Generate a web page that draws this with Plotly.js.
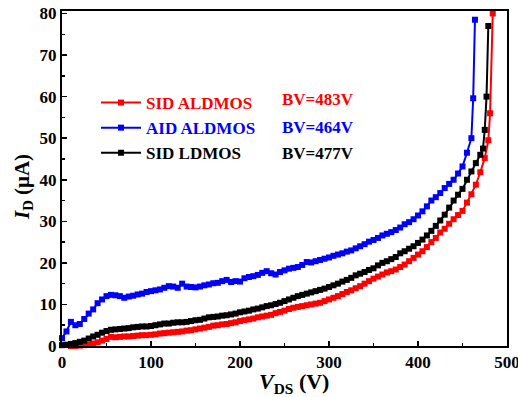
<!DOCTYPE html>
<html>
<head>
<meta charset="utf-8">
<script src="https://cdn.plot.ly/plotly-3.0.1.min.js"></script>
<style>html,body{margin:0;padding:0;background:#fff;}#chart{width:518px;height:397px;}</style>
</head>
<body>
<div id="chart"></div>
<script>
// Common V_DS grid (V) for the dense part of the sweep
const vGrid = [0,5,10,15,20,25,30,35,40,45,50,55,60,65,70,75,80,85,90,95,100,105,110,115,120,125,130,135,140,145,150,155,160,165,170,175,180,185,190,195,200,205,210,215,220,225,230,235,240,245,250,255,260,265,270,275,280,285,290,295,300,305,310,315,320,325,330,335,340,345,350,355,360,365,370,375,380,385,390,395,400,405,410,415,420,425,430,435,440,445,450,455,460];

// AID ALDMOS (blue)
const aidV = vGrid.concat([462,464]);
const aidI = [1.9,3.5,5.8,5.0,5.3,6.5,7.8,8.8,10.3,11.2,12.0,12.3,12.2,12.0,11.6,11.9,12.1,12.4,12.6,13.0,13.2,13.4,13.6,14.0,14.4,14.3,14.0,15.0,14.3,14.2,14.1,14.3,14.6,14.8,15.1,15.2,15.6,15.9,15.4,15.6,15.5,16.3,16.6,16.8,17.1,17.6,18.0,17.5,17.2,17.8,18.2,18.6,18.8,19.0,19.5,20.2,20.1,20.4,20.7,21.0,21.3,21.7,22.0,22.3,22.7,23.0,23.5,24.0,24.5,25.1,25.5,26.0,26.6,27.0,27.4,27.9,28.5,29.3,29.8,30.5,31.4,32.4,33.6,35.0,35.8,36.8,38.0,39.0,40.0,41.5,43.2,46.5,50.0,59.6,78.5];

// SID LDMOS (black)
const ldV = vGrid.concat([465,470,473,475,477,479]);
const ldI = [0.2,0.3,0.5,0.7,1.0,1.3,1.8,2.3,2.7,3.2,3.6,3.9,4.0,4.1,4.2,4.3,4.5,4.6,4.7,4.7,4.8,5.0,5.2,5.4,5.4,5.6,5.7,5.7,5.8,6.0,6.2,6.3,6.6,6.9,7.0,7.1,7.3,7.4,7.6,7.8,8.1,8.3,8.5,8.8,9.0,9.3,9.6,9.8,10.1,10.4,10.8,11.2,11.6,12.0,12.3,12.6,12.9,13.2,13.5,13.8,14.2,14.6,15.0,15.5,15.9,16.4,17.0,17.4,17.8,18.3,18.7,19.4,20.0,20.4,20.9,21.4,22.3,22.8,23.4,24.0,24.8,25.6,26.6,27.7,28.9,30.2,31.6,33.3,35.0,36.4,37.8,40.0,42.0,44.0,46.0,47.5,52.0,60.0,77.0];

// SID ALDMOS (red)
const sidV = vGrid.concat([465,470,475,479,481,484]);
const sidI = [-0.3,-0.2,0,0,0.1,0.2,0.3,0.6,0.9,1.3,1.7,2.2,2.1,2.2,2.3,2.3,2.4,2.5,2.6,2.6,2.7,2.8,3.0,3.1,3.2,3.3,3.4,3.5,3.7,3.8,4.0,4.2,4.4,4.6,4.9,5.0,5.2,5.3,5.5,5.7,6.0,6.2,6.4,6.6,6.9,7.1,7.3,7.5,7.9,8.2,8.5,8.9,9.2,9.4,9.6,9.8,10.0,10.2,10.4,10.8,11.2,11.6,12.0,12.5,13.0,13.4,13.9,14.4,15.0,15.6,16.2,16.7,17.2,17.7,18.0,18.4,19.0,19.6,20.4,21.2,22.0,22.8,23.8,25.0,26.0,27.3,28.2,29.4,30.5,31.5,32.5,34.5,36.5,38.8,41.8,45.2,49.5,56.0,80.0];

const seriesNames = ['SID ALDMOS','AID ALDMOS','SID LDMOS'];
const bvLabels = ['BV=483V','BV=464V','BV=477V'];
const colors = ['#ff0000','#0000ff','#000000'];

const xs = [sidV, aidV, ldV];
const ys = [sidI, aidI, ldI];

const traces = seriesNames.map((n,i)=>({
  x: xs[i], y: ys[i], type:'scatter', mode:'lines+markers',
  name: "<span style='color:"+colors[i]+"'>"+n+"</span>",
  legendgroup: 'g'+i,
  line:{color:colors[i], width:2},
  marker:{symbol:'square', size:6, color:colors[i]},
  cliponaxis:false
}));

const FONT = '"Liberation Serif", "Times New Roman", serif';
const L=62, R=507, T=11, B=346;
const pyToPaper = py => (B-py)/(B-T);
const pxToPaper = px => (px-L)/(R-L);
const bvY = [100,127,153];

const annotations = bvLabels.map((t,i)=>({
  xref:'paper', yref:'paper', x:pxToPaper(280), y:pyToPaper(bvY[i]),
  xanchor:'left', yanchor:'middle', showarrow:false,
  text:'<b>'+t+'</b>', font:{family:FONT, size:17, color:colors[i]}
}));
// axis titles
annotations.push({
  xref:'paper', yref:'paper', x:pxToPaper(294), y:pyToPaper(383),
  xanchor:'center', yanchor:'middle', showarrow:false,
  text:'<b><i>V</i><sub>DS</sub> (V)</b>', font:{family:FONT, size:22, color:'#000'}
});
annotations.push({
  xref:'paper', yref:'paper', x:pxToPaper(23), y:pyToPaper(187),
  xanchor:'center', yanchor:'middle', showarrow:false, textangle:-90,
  text:'<b><i>I</i><sub>D</sub> (μA)</b>', font:{family:FONT, size:21, color:'#000'}
});

const axisCommon = {
  showline:true, linewidth:2, linecolor:'#000', mirror:true,
  ticks:'inside', ticklen:5, tickwidth:1.5, tickcolor:'#000',
  showgrid:false, zeroline:false, ticklabeloverflow:'allow',
  tickfont:{family:FONT, size:17, color:'#000', weight:'bold'}
};

const layout = {
  width:518, height:397,
  margin:{l:L, r:518-R, t:T, b:397-B},
  paper_bgcolor:'#fff', plot_bgcolor:'#fff',
  showlegend:true,
  legend:{x:pxToPaper(96), y:pyToPaper(85), xanchor:'left', yanchor:'top',
    bgcolor:'rgba(0,0,0,0)', tracegroupgap:0, itemwidth:40,
    font:{family:FONT, size:17, weight:'bold'}},
  xaxis: Object.assign({}, axisCommon, {
    range:[0,500], dtick:100,
    minor:{ticks:'inside', ticklen:3, dtick:50, tickcolor:'#000', tickwidth:1.5}
  }),
  yaxis: Object.assign({}, axisCommon, {
    range:[0,80.6], dtick:10,
    minor:{ticks:'inside', ticklen:3, dtick:5, tickcolor:'#000', tickwidth:1.5}
  }),
  annotations: annotations
};

Plotly.newPlot('chart', traces, layout, {displayModeBar:false, staticPlot:true});
</script>
</body>
</html>
